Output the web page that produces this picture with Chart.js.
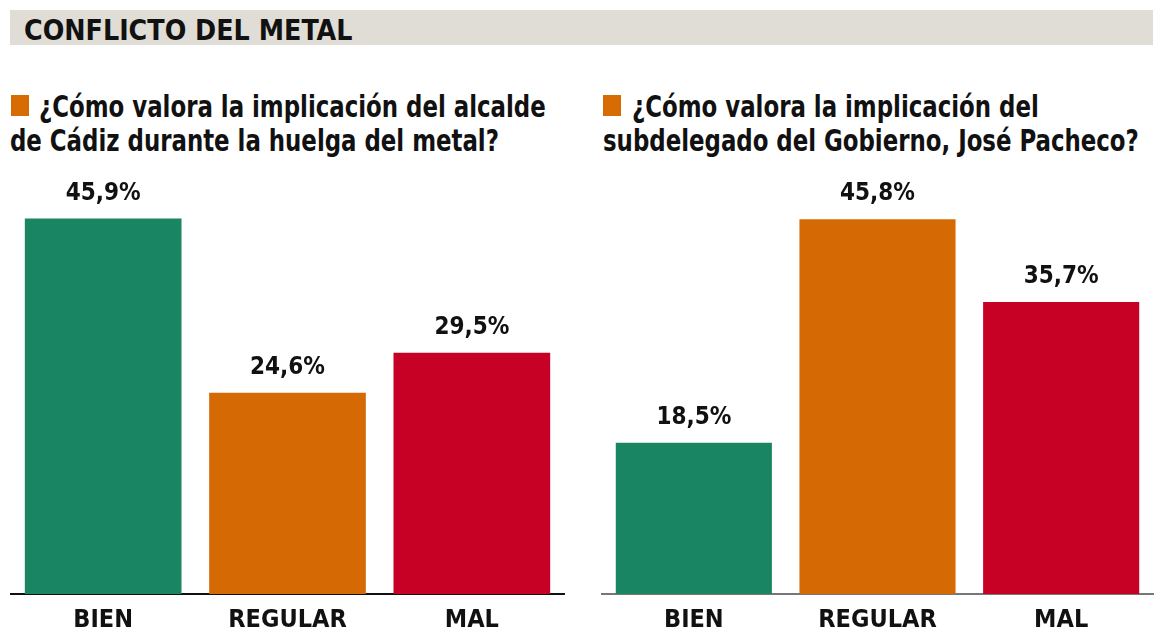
<!DOCTYPE html>
<html>
<head>
<meta charset="utf-8">
<script src="https://cdn.jsdelivr.net/npm/chart.js@4"></script>
<style>
  html, body { margin:0; padding:0; width:1163px; height:640px; overflow:hidden; background:#fff; }
  body { position:relative; font-family:'Liberation Sans Narrow','DejaVu Sans Condensed',sans-serif; font-weight:bold; color:#111; }
  #bar { position:absolute; left:10px; top:10px; width:1143px; height:35px; background:#dfddd5; }
  #title { position:absolute; left:24px; top:14px; font-size:29px; line-height:32px; white-space:nowrap; transform:scaleX(0.975); transform-origin:left top; }
  .ql { position:absolute; font-size:31px; line-height:35px; white-space:nowrap; transform:scaleX(0.82); transform-origin:left top; }
  .sq { position:absolute; width:18px; height:21px; background:#d76b04; }
  .wrap { position:absolute; top:150px; height:496px; }
  canvas { display:block; }
</style>
</head>
<body>
<div id="bar"></div>
<div id="title">CONFLICTO DEL METAL</div>
<div class="sq" style="left:11px; top:95px;"></div>
<div class="ql" style="left:39px; top:89px;">¿Cómo valora la implicación del alcalde</div>
<div class="ql" style="left:10px; top:123px;">de Cádiz durante la huelga del metal?</div>
<div class="sq" style="left:603px; top:95px;"></div>
<div class="ql" style="left:632px; top:89px;">¿Cómo valora la implicación del</div>
<div class="ql" style="left:603px; top:123px;">subdelegado del Gobierno, José Pacheco?</div>
<div class="wrap" style="left:0px; width:580px;"><canvas id="c1"></canvas></div>
<div class="wrap" style="left:588px; width:575px;"><canvas id="c2"></canvas></div>
<script>
const categories = ['BIEN', 'REGULAR', 'MAL'];
const alcaldeValues = [45.9, 24.6, 29.5];
const subdelegadoValues = [18.5, 45.8, 35.7];
const valueLabelsAlcalde = ['45,9%', '24,6%', '29,5%'];
const valueLabelsSubdelegado = ['18,5%', '45,8%', '35,7%'];
const barColors = ['#1a8563', '#d56a05', '#c70026'];

const FONT = "'Liberation Sans Narrow','DejaVu Sans Condensed',sans-serif";

const valueLabelPlugin = {
  id: 'valueLabels',
  afterDatasetsDraw(chart, args, opts) {
    const ctx = chart.ctx;
    const meta = chart.getDatasetMeta(0);
    ctx.save();
    ctx.font = 'bold 24px ' + FONT;
    ctx.fillStyle = '#111';
    ctx.textAlign = 'center';
    ctx.textBaseline = 'alphabetic';
    meta.data.forEach((bar, i) => {
      ctx.fillText(opts.labels[i], bar.x, bar.y - 19);
    });
    ctx.restore();
  }
};

function makeChart(id, values, labels, axisColor, pad) {
  return new Chart(document.getElementById(id), {
    type: 'bar',
    data: {
      labels: categories,
      datasets: [{ data: values, backgroundColor: barColors, borderWidth: 0,
                   barPercentage: 0.85, categoryPercentage: 1.0 }]
    },
    options: {
      responsive: true,
      maintainAspectRatio: false,
      animation: false,
      layout: { padding: pad },
      plugins: { legend: { display: false }, tooltip: { enabled: false },
                 valueLabels: { labels: labels } },
      scales: {
        y: { display: false, min: 0, max: 50 },
        x: {
          grid: { display: false, drawTicks: false },
          border: { display: true, color: axisColor, width: 2 },
          ticks: { color: '#111', padding: 11,
                   font: { family: FONT, size: 25, weight: 'bold' } }
        }
      }
    },
    plugins: [valueLabelPlugin]
  });
}

makeChart('c1', alcaldeValues, valueLabelsAlcalde, '#111', { left: 11, right: 16, top: 35, bottom: 0 });
makeChart('c2', subdelegadoValues, valueLabelsSubdelegado, '#777', { left: 14, right: 10, top: 35, bottom: 0 });
</script>
</body>
</html>
